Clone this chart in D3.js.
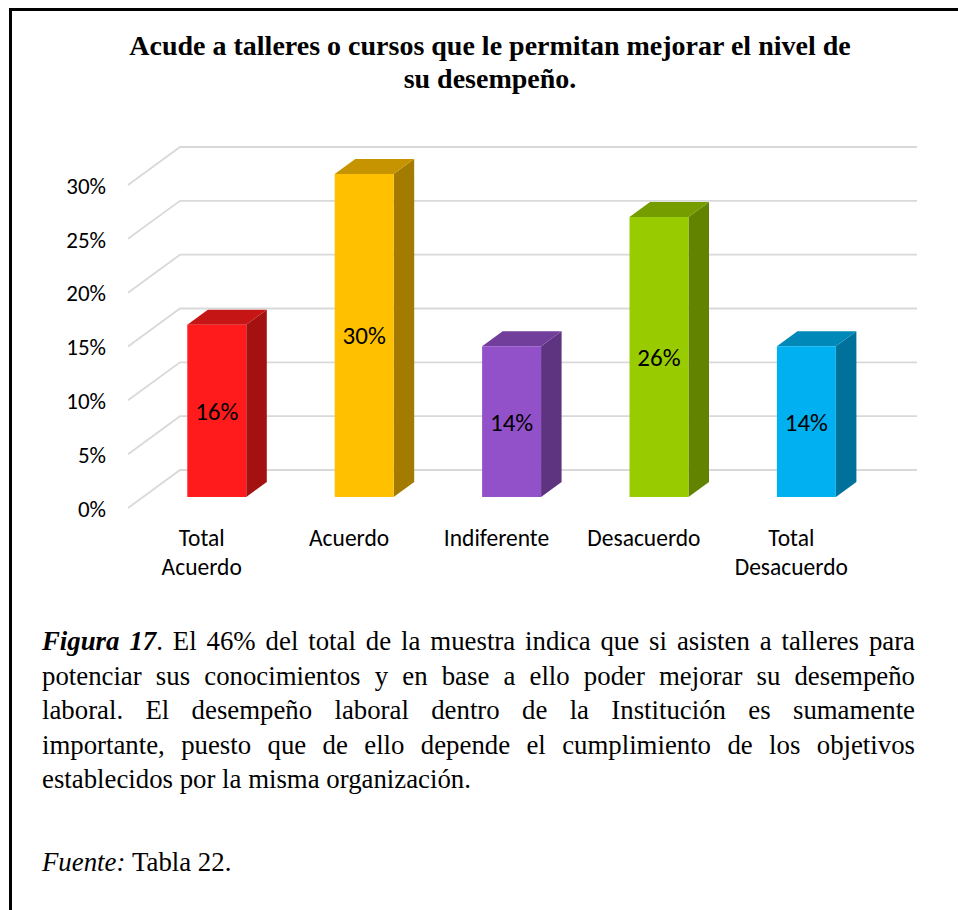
<!DOCTYPE html>
<html>
<head>
<meta charset="utf-8">
<script src="https://cdnjs.cloudflare.com/ajax/libs/d3/7.8.5/d3.min.js"></script>
<style>
body { margin: 0; background: #fff; }
svg { display: block; }
.axis text { font-family: Calibri, Carlito, Lato, sans-serif; fill: #000; }
</style>
</head>
<body>
<script>
//=================================================
// data
//=================================================
var categories = ["Total Acuerdo", "Acuerdo", "Indiferente", "Desacuerdo", "Total Desacuerdo"];
var categoryLines = [["Total", "Acuerdo"], ["Acuerdo"], ["Indiferente"], ["Desacuerdo"], ["Total", "Desacuerdo"]];
var values = [0.16, 0.30, 0.14, 0.26, 0.14];
var yTicks = [0, 0.05, 0.10, 0.15, 0.20, 0.25, 0.30];
var barColors = ["#ff1b1b", "#ffc000", "#9351c9", "#99cc00", "#00b0f0"];
var titleLines = ["Acude a talleres o cursos que le permitan mejorar el nivel de", "su desempeño."];
var captionLines = [
    "*Figura* *17*. El 46% del total de la muestra indica que si asisten a talleres para",
    "potenciar sus conocimientos y en base a ello poder mejorar su desempeño",
    "laboral. El desempeño laboral dentro de la Institución es sumamente",
    "importante, puesto que de ello depende el cumplimiento de los objetivos",
    "establecidos por la misma organización."
];
var sourceLine = "_Fuente:_ Tabla 22.";

//Define SVG
var width = 958, height = 910;
var svg = d3.select("body")
    .append("svg")
    .attr("width", width)
    .attr("height", height);

// frame (right and bottom edges fall outside the picture)
svg.append("rect")
    .attr("x", 10.5)
    .attr("y", 9.5)
    .attr("width", 1000)
    .attr("height", 1000)
    .attr("fill", "none")
    .attr("stroke", "#000")
    .attr("stroke-width", 3);

//=================================================
// title
//=================================================
svg.append("g")
    .selectAll("text")
    .data(titleLines)
    .enter().append("text")
    .attr("x", 490)
    .attr("y", function (d, i) { return 55 + i * 33; })
    .attr("text-anchor", "middle")
    .attr("font-family", "'Times New Roman', 'Liberation Serif', serif")
    .attr("font-weight", "bold")
    .attr("font-size", 28)
    .text(function (d) { return d; });

//=================================================
// 3d column chart
//=================================================
var depth = { x: 52, y: -38 };   // floor depth offset
var z0 = 0.29, z1 = 0.685;       // bar front / back along the depth

var x = d3.scaleBand()
    .domain(categories)
    .range([128, 865])
    .paddingInner(0.6)
    .paddingOuter(0.3);

var y = d3.scaleLinear()
    .domain([0, 0.30])
    .range([508, 185]);

var color = d3.scaleOrdinal(categories, barColors);

// gridlines: side wall diagonal + back wall line
svg.append("g")
    .attr("class", "grid")
    .selectAll("path")
    .data(yTicks)
    .enter().append("path")
    .attr("fill", "none")
    .attr("stroke", "#d9d9d9")
    .attr("stroke-width", 1.8)
    .attr("d", function (d) {
        var r = x.range();
        return "M" + r[0] + "," + y(d) +
            "L" + (r[0] + depth.x) + "," + (y(d) + depth.y) +
            "L" + (r[1] + depth.x) + "," + (y(d) + depth.y);
    });

// y axis
svg.append("g")
    .attr("class", "axis")
    .attr("transform", "translate(" + x.range()[0] + ",0)")
    .call(d3.axisLeft(y)
        .tickValues(yTicks)
        .tickFormat(d3.format(".0%"))
        .tickSize(0)
        .tickPadding(22))
    .call(function (g) { g.select(".domain").remove(); })
    .selectAll("text")
    .attr("font-size", 23)
    .attr("dy", "0.36em");

// x axis with two line labels
var xAxis = svg.append("g")
    .attr("class", "axis")
    .attr("transform", "translate(0," + y(0) + ")")
    .call(d3.axisBottom(x).tickSize(0))
    .call(function (g) { g.select(".domain").remove(); });

xAxis.selectAll(".tick text")
    .attr("y", 0)
    .attr("dy", null)
    .attr("font-size", 23.5)
    .text(null)
    .each(function (d, i) {
        var t = d3.select(this);
        categoryLines[i].forEach(function (line, j) {
            t.append("tspan")
                .attr("x", 0)
                .attr("y", 38 + j * 29)
                .text(line);
        });
    });

// bars
var dzx = (z1 - z0) * depth.x, dzy = (z1 - z0) * depth.y;
var bars = svg.append("g")
    .attr("class", "bars")
    .selectAll("g")
    .data(categories)
    .enter().append("g")
    .attr("transform", "translate(" + (z0 * depth.x) + "," + (z0 * depth.y) + ")");

bars.append("path")   // side face
    .attr("fill", function (d) { return d3.color(color(d)).darker(1.25); })
    .attr("d", function (d, i) {
        var r = x(d) + x.bandwidth(), t = y(values[i]), b = y(0);
        return "M" + r + "," + t + "L" + (r + dzx) + "," + (t + dzy) +
            "L" + (r + dzx) + "," + (b + dzy) + "L" + r + "," + b + "Z";
    });

bars.append("path")   // top face
    .attr("fill", function (d) { return d3.color(color(d)).darker(0.73); })
    .attr("d", function (d, i) {
        var l = x(d), r = x(d) + x.bandwidth(), t = y(values[i]);
        return "M" + l + "," + t + "L" + r + "," + t +
            "L" + (r + dzx) + "," + (t + dzy) + "L" + (l + dzx) + "," + (t + dzy) + "Z";
    });

bars.append("rect")   // front face
    .attr("x", function (d) { return x(d); })
    .attr("y", function (d, i) { return y(values[i]); })
    .attr("width", x.bandwidth())
    .attr("height", function (d, i) { return y(0) - y(values[i]); })
    .attr("fill", function (d) { return color(d); });

bars.append("text")
    .attr("x", function (d) { return x(d) + x.bandwidth() / 2; })
    .attr("y", function (d, i) { return (y(values[i]) + y(0)) / 2; })
    .attr("dy", "0.36em")
    .attr("text-anchor", "middle")
    .attr("font-family", "Calibri, Carlito, Lato, sans-serif")
    .attr("font-size", 25)
    .attr("fill", "#000")
    .text(function (d, i) { return d3.format(".0%")(values[i]); });

//=================================================
// caption (justified)
//=================================================
var textLeft = 42, textRight = 915;

function drawLine(line, yPos, justify) {
    var g = svg.append("g")
        .attr("font-family", "'Times New Roman', 'Liberation Serif', serif")
        .attr("font-size", 26.8)
        .attr("fill", "#000");
    var words = line.split(" ");
    var nodes = words.map(function (w) {
        var t = g.append("text").attr("y", yPos);
        w.match(/\*[^*]+\*|_[^_]+_|[^*_]+/g).forEach(function (p) {
            var ts = t.append("tspan");
            if (p[0] == "*") {
                ts.text(p.slice(1, -1)).attr("font-weight", "bold").attr("font-style", "italic");
            } else if (p[0] == "_") {
                ts.text(p.slice(1, -1)).attr("font-style", "italic");
            } else {
                ts.text(p);
            }
        });
        return t;
    });
    var widths = nodes.map(function (n) { return n.node().getComputedTextLength(); });
    var gap = justify ? (textRight - textLeft - d3.sum(widths)) / (words.length - 1) : 6.7;
    var cx = textLeft;
    nodes.forEach(function (n, i) {
        n.attr("x", cx);
        cx += widths[i] + gap;
    });
}

captionLines.forEach(function (line, i) {
    drawLine(line, 650 + i * 34.5, i < captionLines.length - 1);
});
drawLine(sourceLine, 871, false);
</script>
</body>
</html>
